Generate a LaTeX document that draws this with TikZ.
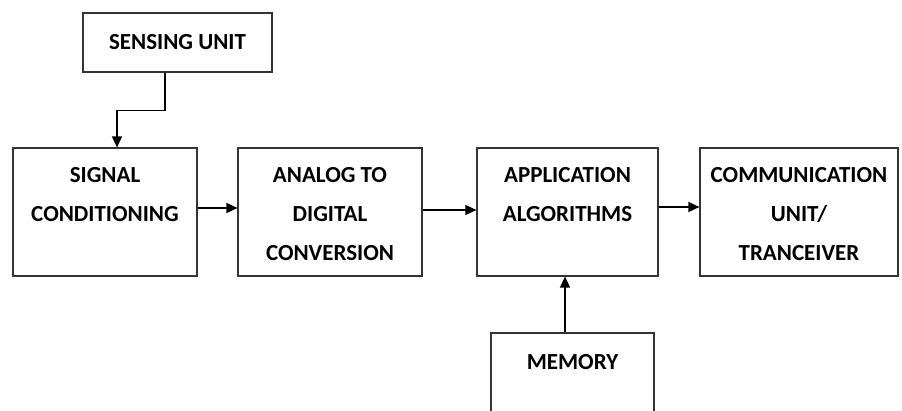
\documentclass[tikz,border=0pt]{standalone}
\usepackage{fontspec}
\setmainfont{Carlito}
\usetikzlibrary{arrows.meta}
\begin{document}
\begin{tikzpicture}[x=1pt,y=1pt,
  box/.style={draw=black!80, line width=1.2pt, inner sep=0pt, rectangle},
  lbl/.style={font=\bfseries\fontsize{23}{39}\selectfont, align=center, inner sep=0pt, anchor=north},
  conn/.style={line width=1.6pt, -{Triangle[length=11pt,width=10pt]}}]
\useasboundingbox (0,0) rectangle (902,410);
% boxes
\node[box, minimum width=189pt, minimum height=59pt] (sense) at (177.5,367.5) {};
\node[box, minimum width=184pt, minimum height=128pt] (sig) at (105,198) {};
\node[box, minimum width=184pt, minimum height=128pt] (adc) at (330,198) {};
\node[box, minimum width=181pt, minimum height=128pt] (app) at (567.5,198) {};
\node[box, minimum width=198pt, minimum height=128pt] (comm) at (799,198) {};
\node[box, minimum width=163pt, minimum height=87pt] (mem) at (572.5,33.5) {};
% texts
\node[lbl] (tsense) at (177.5,375.5) {SENSING UNIT};
\node[lbl] (tsig) at (105,242.5) {SIGNAL\\CONDITIONING};
\node[lbl] (tadc) at (330,242.5) {ANALOG TO\\DIGITAL\\CONVERSION};
\node[lbl] (tapp) at (567.5,242.5) {APPLICATION\\ALGORITHMS};
\node[lbl] (tcomm) at (799,242.5) {COMMUNICATION\\UNIT/\\TRANCEIVER};
\node[lbl] (tmem) at (572.5,55.5) {MEMORY};
% connectors
\draw[conn] ([xshift=-12.5pt]sense.south) -- ++(0,-38) -| ([xshift=12pt]sig.north);
\draw[conn] ([yshift=4pt]sig.east) -- ([yshift=4pt]adc.west);
\draw[conn] ([yshift=2pt]adc.east) -- ([yshift=2pt]app.west);
\draw[conn] ([yshift=5pt]app.east) -- ([yshift=5pt]comm.west);
\draw[conn] ([xshift=-7.5pt]mem.north) -- ([xshift=-7.5pt]mem.north |- app.south);
\end{tikzpicture}
\end{document}
